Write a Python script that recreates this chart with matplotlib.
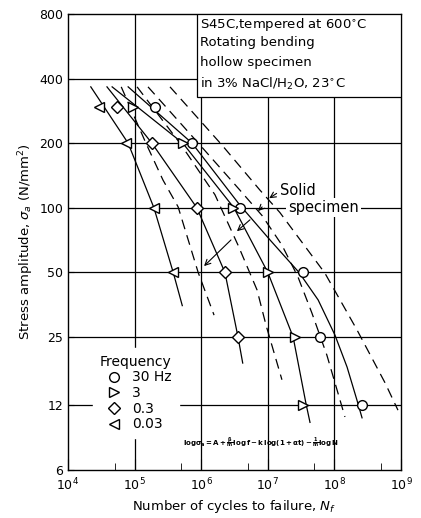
import numpy as np
import matplotlib.pyplot as plt
from matplotlib.patches import Rectangle

# --- measured points, hollow specimen in 3% NaCl ---
n_30hz = [2.0e5, 7.3e5, 3.8e6, 3.4e7, 6.0e7, 2.6e8]
s_30hz = [294, 200, 100, 50, 25, 12]
n_3hz = [9.5e4, 5.4e5, 3.0e6, 1.0e7, 2.6e7, 3.4e7]
s_3hz = [294, 200, 100, 50, 25, 12]
n_03hz = [5.5e4, 1.8e5, 8.7e5, 2.3e6, 3.6e6]
s_03hz = [294, 200, 100, 50, 25]
n_003hz = [2.9e4, 7.4e4, 1.95e5, 3.8e5]
s_003hz = [294, 200, 100, 50]

# --- fitted curves, hollow specimen (solid lines) ---
hc_n_003 = [2.2e4, 8.0e4, 1.95e5, 3.8e5, 5.2e5]
hc_s_003 = [366, 200, 100, 50, 35]
hc_n_03 = [3.85e4, 1.82e5, 8.6e5, 2.27e6, 3.57e6, 4.2e6]
hc_s_03 = [366, 200, 100, 50, 25, 18.9]
hc_n_3 = [4.6e4, 5.3e5, 3.1e6, 1.0e7, 2.4e7, 3.75e7, 4.3e7]
hc_s_3 = [366, 200, 100, 50, 25, 12.2, 10.0]
hc_n_30 = [8.0e4, 7.3e5, 3.8e6, 1.08e7, 2.94e7, 5.7e7, 1.02e8, 1.55e8, 2.18e8, 2.6e8]
hc_s_30 = [366, 200, 103, 70.8, 50, 37.2, 25.5, 18.1, 12.7, 10.5]

# --- solid specimen curves (dashed) ---
sc_n_1 = [6.3e4, 1.48e5, 2.67e5, 4.5e5, 9.0e5, 1.56e6]
sc_s_1 = [366, 200, 134.6, 101, 50, 31.6]
sc_n_2 = [1.09e5, 4.8e5, 1.61e6, 3.57e6, 6.9e6, 9.4e6, 1.63e7]
sc_s_2 = [366, 200, 115, 67, 41.4, 28.4, 15.8]
sc_n_3 = [1.59e5, 9.6e5, 3.8e6, 8.2e6, 1.63e7, 2.84e7, 4.6e7, 7.7e7, 1.44e8]
sc_s_3 = [366, 196, 121, 92, 67, 47.6, 32.3, 20.6, 10.6]
sc_n_4 = [3.4e5, 2.05e6, 7.6e6, 1.52e7, 7.2e7, 2.18e8, 5.75e8, 9.0e8]
sc_s_4 = [366, 196, 121, 95, 49.6, 27, 15.3, 11.4]

# arrows from the "Solid specimen" label: (tip N, tip S, tail N, tail S)
arrows = [
    (9.7e6, 109, 1.47e7, 118.6),
    (6.65e6, 94.6, 8.8e6, 103),
    (3.2e6, 76.3, 5.8e6, 89.6),
    (1.03e6, 52.4, 3.0e6, 72.3),
]

y_ticks = [6, 12, 25, 50, 100, 200, 400, 800]
x_ticks = [1e4, 1e5, 1e6, 1e7, 1e8, 1e9]

fig = plt.figure(figsize=(4.21, 5.18), dpi=100)
ax = fig.add_axes([0.1615, 0.0927, 0.791, 0.8803])
ax.set_xscale("log")
ax.set_yscale("log")
ax.set_xlim(1e4, 1e9)
ax.set_ylim(6, 800)

# grid
for yv in y_ticks[1:-1]:
    ax.axhline(yv, color="black", lw=0.9, zorder=1)
for xv in x_ticks[1:-1]:
    ax.axvline(xv, color="black", lw=0.9, zorder=1)

lw = 0.9
for n, s in [(hc_n_003, hc_s_003), (hc_n_03, hc_s_03), (hc_n_3, hc_s_3), (hc_n_30, hc_s_30)]:
    ax.plot(n, s, color="black", lw=lw, zorder=2)
for n, s in [(sc_n_1, sc_s_1), (sc_n_2, sc_s_2), (sc_n_3, sc_s_3), (sc_n_4, sc_s_4)]:
    ax.plot(n, s, color="black", lw=lw, dashes=(8, 5), zorder=2)

mk = dict(linestyle="none", mfc="white", mec="black", mew=1.0, color="black", zorder=4)
ax.plot(n_30hz, s_30hz, marker="o", ms=7, label="30 Hz", **mk)
ax.plot(n_3hz, s_3hz, marker=">", ms=7, label="3", **mk)
ax.plot(n_03hz, s_03hz, marker="D", ms=6, label="0.3", **mk)
ax.plot(n_003hz, s_003hz, marker="<", ms=7, label="0.03", **mk)

leg = ax.legend(title="Frequency", loc="upper left", bbox_to_anchor=(0.075, 0.268),
                borderaxespad=0, frameon=True, fontsize=10, title_fontsize=10,
                handlelength=2.0, handletextpad=0.3, labelspacing=0.12,
                borderpad=0.5, alignment="left")
leg.get_frame().set_facecolor("white")
leg.get_frame().set_edgecolor("white")
leg.get_frame().set_alpha(1)
leg.set_zorder(5)

# info box
ax.add_patch(Rectangle((0.387, 0.818), 0.613, 0.182, transform=ax.transAxes,
                       facecolor="white", edgecolor="black", lw=0.9, zorder=5))
info = ["S45C,tempered at 600$^{\\circ}$C", "Rotating bending", "hollow specimen",
        "in 3% NaCl/H$_2$O, 23$^{\\circ}$C"]
for i, line in enumerate(info):
    ax.text(0.395, 0.996 - i * 0.044, line, transform=ax.transAxes, fontsize=9.5,
            va="top", ha="left", zorder=6)

# solid specimen annotation
ax.text(1.55e7, 120, "Solid", fontsize=10.5, ha="left", va="center", zorder=6)
ax.text(2.0e7, 100, "specimen", fontsize=10.5, ha="left", va="center", zorder=6,
        bbox=dict(facecolor="white", edgecolor="none", pad=1.5))
for tn, ts, fn, fs in arrows:
    ax.annotate("", xy=(tn, ts), xytext=(fn, fs),
                arrowprops=dict(arrowstyle="->", color="black", lw=0.8), zorder=6)

ax.text(5.3e5, 8.0,
        r"$\mathbf{log\sigma_a = A + \frac{\beta}{m}log\,f - k\,log(1+\alpha t) - \frac{1}{m}log\,N}$",
        fontsize=5, ha="left", va="center", zorder=6)

ax.set_yticks(y_ticks)
ax.set_yticklabels([str(v) for v in y_ticks])
ax.yaxis.set_minor_locator(plt.NullLocator())
ax.set_xticks(x_ticks)
ax.set_xticklabels([r"$10^{%d}$" % int(np.log10(v)) for v in x_ticks])
ax.set_xticks([5e4, 5e5, 5e6, 5e7, 5e8], minor=True)
ax.tick_params(axis="both", which="both", direction="in", labelsize=9, color="black")
ax.tick_params(axis="x", which="minor", length=5)
ax.tick_params(axis="x", which="major", length=8, pad=5)
ax.tick_params(axis="y", which="major", length=4)

for sp in ax.spines.values():
    sp.set_linewidth(1.0)

ax.set_xlabel("Number of cycles to failure, $N_f$", fontsize=9.5, labelpad=3)
ax.set_ylabel("Stress amplitude, $\\sigma_a$ (N/mm$^2$)", fontsize=9.5, labelpad=2)

fig.savefig("out.png", dpi=100)
